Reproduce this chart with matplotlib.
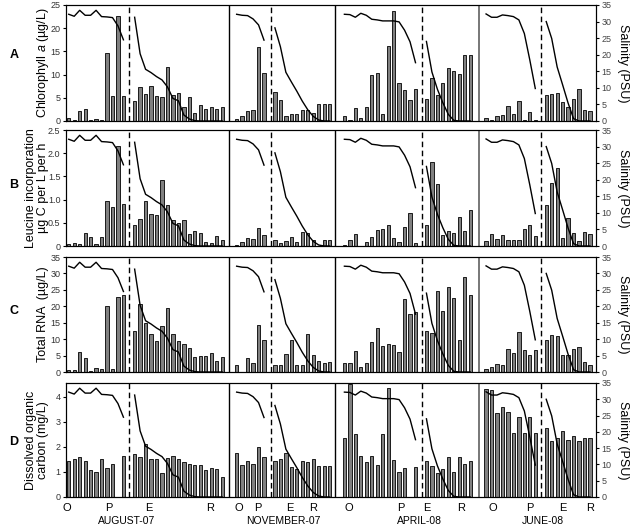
import matplotlib.pyplot as plt
import numpy as np

plt.rcParams['font.family'] = ['Liberation Sans', 'DejaVu Sans']
plt.rcParams['mathtext.fontset'] = 'custom'
plt.rcParams['mathtext.rm'] = 'Liberation Sans'
plt.rcParams['mathtext.it'] = 'Liberation Sans:italic'

nan = np.nan
seasons = ['AUGUST-07', 'NOVEMBER-07', 'APRIL-08', 'JUNE-08']

# A - chlorophyll a (ug/L); _o = ocean/plume stations, _e = estuary/river stations
chl_aug_o = [0.7, 0.2, 2.2, 2.6, 0.2, 0.4, 0.2, 14.7, 5.4, 22.6, 5.4]
chl_aug_e = [4.3, 7.3, 5.9, 7.6, 5.4, 5.1, 11.7, 5.7, 6.0, 3.1, 5.1, 1.7, 3.5, 2.5, 3.1, 2.5, 3.1]
chl_nov_o = [0.5, 1.1, 2.1, 2.3, 16.0, 10.4]
chl_nov_e = [6.2, 4.6, 1.1, 1.6, 1.5, 2.3, 2.4, 1.7, 3.6, 3.6, 3.6]
chl_apr_o = [1.1, 0.15, 2.8, 0.7, 3.0, 9.9, 10.4, 1.6, 16.1, 23.6, 8.1, 6.7, 4.5, 6.8]
chl_apr_e = [4.8, 9.2, 5.5, 8.1, 11.4, 10.7, 10.1, 14.3, 14.3]
chl_jun_o = [0.6, 0.3, 1.1, 1.4, 3.2, 1.6, 4.3, 0.3, 1.9, 0.15]
chl_jun_e = [5.7, 5.9, 6.1, 4.0, 3.0, 4.7, 6.9, 2.4, 2.2]

# B - leucine incorporation
leu_aug_o = [0.04, 0.07, 0.04, 0.28, 0.19, 0.05, 0.20, 0.96, 0.85, 2.15, 0.91]
leu_aug_e = [0.45, 0.58, 0.96, 0.68, 0.66, 1.42, 0.89, 0.55, 0.50, 0.57, 0.25, 0.32, 0.28, 0.09, 0.06, 0.22, 0.14]
leu_nov_o = [0.02, 0.08, 0.18, 0.15, 0.39, 0.23]
leu_nov_e = [0.12, 0.07, 0.11, 0.20, 0.09, 0.30, 0.27, 0.14, 0.01, 0.13, 0.13]
leu_apr_o = [0.015, 0.14, 0.25, nan, 0.09, 0.19, 0.35, 0.37, 0.45, 0.18, 0.09, 0.40, 0.72, 0.06]
leu_apr_e = [0.46, 1.81, 1.34, 0.23, 0.33, 0.29, 0.62, 0.33, 0.77]
leu_jun_o = [0.11, 0.25, 0.16, 0.23, 0.14, 0.14, 0.14, 0.37, 0.46, 0.22]
leu_jun_e = [0.88, 1.35, 1.69, 0.17, 0.60, 0.28, 0.10, 0.30, 0.26]

# C - total RNA (ug/L)
rna_aug_o = [0.7, 0.6, 6.2, 4.2, 0.3, 1.2, 0.8, 20.2, 1.0, 22.7, 23.3]
rna_aug_e = [12.4, 20.7, 14.8, 11.5, 9.4, 14.0, 19.5, 11.6, 9.3, 8.4, 7.3, 4.5, 4.9, 5.0, 5.8, 3.3, 4.6]
rna_nov_o = [2.1, nan, 4.2, 2.8, 14.3, 9.6]
rna_nov_e = [2.0, 2.0, 5.5, 9.8, 2.2, 2.0, 11.6, 5.1, 3.3, 2.6, 3.0]
rna_apr_o = [2.7, 2.7, 6.4, 1.5, 2.8, 9.1, 13.4, 7.9, 8.4, 8.2, 6.1, 22.2, 17.8, 18.4]
rna_apr_e = [12.5, 11.9, 24.8, 18.5, 26.0, 22.5, 9.8, 28.9, 23.3]
rna_jun_o = [0.9, 1.5, 2.4, 2.0, 7.1, 5.8, 12.3, 6.8, 5.3, 6.8]
rna_jun_e = [9.8, 11.4, 11.0, 5.3, 5.3, 6.9, 7.5, 3.0, 2.1]

# D - dissolved organic carbon (mg/L)
doc_aug_o = [1.42, 1.5, 1.6, 1.45, 1.07, 1.0, 1.5, 1.15, 1.3, nan, 1.63]
doc_aug_e = [1.72, 1.6, 2.1, 1.52, 1.52, 0.97, 1.55, 1.63, 1.52, 1.4, 1.32, 1.27, 1.28, 1.08, 1.16, 1.1, 0.78]
doc_nov_o = [1.75, 1.28, 1.43, 1.33, 2.0, 1.6]
doc_nov_e = [1.45, 1.5, 1.75, 1.2, 1.13, 1.43, 1.38, 1.5, 1.22, 1.25, 1.25]
doc_apr_o = [2.35, 4.5, 2.51, 1.65, 1.39, 1.62, 1.26, 2.51, 4.34, 1.47, 1.0, 1.15, nan, 1.21]
doc_apr_e = [1.43, 1.24, 0.94, 1.11, 1.6, 1.0, 1.6, 1.3, 1.43]
doc_jun_o = [4.3, 4.26, 3.36, 3.58, 3.39, 2.57, 3.19, 2.54, 3.19, 2.57]
doc_jun_e = [2.74, 2.25, 2.35, 2.65, 2.28, 2.44, 2.25, 2.35, 2.35]

# salinity (PSU), same in every row
sal_aug_o = [32.2, 31.6, 33.4, 31.9, 31.9, 33.4, 31.5, 31.4, 31.2, 28.7, 24.5]
sal_aug_e = [31.3, 20.3, 15.6, 14.6, 13.4, 12.4, 10.3, 6.8, 6.1, 1.8, 0.6, 0.1, 0, 0, 0, 0, 0]
sal_nov_o = [32.2, 31.9, 31.8, 30.8, 29.0, 24.4]
sal_nov_e = [28.1, 22.4, 14.7, 11.8, 9.0, 6.0, 3.4, 1.4, 0.3, 0, 0]
sal_apr_o = [32.2, 32.1, 31.3, 32.5, 31.9, 30.7, 30.5, 30.2, 30.2, 30.2, 29.9, 27.4, 23.9, 17.6]
sal_apr_e = [24.0, 14.8, 9.6, 5.5, 2.0, 0.2, 0, 0, 0]
sal_jun_o = [32.3, 31.3, 31.3, 32.0, 31.8, 31.5, 30.5, 26.4, 18.4, 9.8]
sal_jun_e = [30.0, 24.9, 16.3, 10.9, 5.4, 0.7, 0, 0, 0]

sal = [(sal_aug_o, sal_aug_e), (sal_nov_o, sal_nov_e),
       (sal_apr_o, sal_apr_e), (sal_jun_o, sal_jun_e)]

# layout along x (in station-slot units)
ocean_start = [0.5, 31.2, 50.9, 76.8]
est_start = [12.55, 38.2, 65.9, 87.8]
dash_x = [11.6, 37.55, 65.1, 86.9]
sep_x = [29.75, 49.25, 75.6]
xmax = 96.9
stn_x = [0.2, 7.9, 15.2, 26.3, 31.6, 35.1, 41.0, 45.2,
         51.7, 61.3, 65.9, 72.3, 78.1, 84.8, 90.8, 95.8]
stn_lab = ['O', 'P', 'E', 'R'] * 4
season_x = [11.1, 39.7, 64.7, 87.2]

rows = [
    ('A', r'Chlorophyll $\it{a}$ (µg/L)', 25, np.arange(0, 26, 5), None,
     [(chl_aug_o, chl_aug_e), (chl_nov_o, chl_nov_e), (chl_apr_o, chl_apr_e), (chl_jun_o, chl_jun_e)]),
    ('B', 'Leucine incorporation\nµg C per L per h', 2.5, np.arange(0, 2.6, 0.5),
     ['0', '0.5', '1.0', '1.5', '2.0', '2.5'],
     [(leu_aug_o, leu_aug_e), (leu_nov_o, leu_nov_e), (leu_apr_o, leu_apr_e), (leu_jun_o, leu_jun_e)]),
    ('C', 'Total RNA  (µg/L)', 35, np.arange(0, 36, 5), None,
     [(rna_aug_o, rna_aug_e), (rna_nov_o, rna_nov_e), (rna_apr_o, rna_apr_e), (rna_jun_o, rna_jun_e)]),
    ('D', 'Dissolved organic\ncarbon (mg/L)', 4.55, np.arange(0, 5, 1), None,
     [(doc_aug_o, doc_aug_e), (doc_nov_o, doc_nov_e), (doc_apr_o, doc_apr_e), (doc_jun_o, doc_jun_e)]),
]

W, H = 634, 529
fig = plt.figure(figsize=(W / 100, H / 100), dpi=100)
row_px = [(5, 121), (130, 246), (257, 372), (383, 497)]
letter_y = [55, 185, 311, 442]
label_px = [43, 37, 43, 37]
x0, x1 = 66, 596

for r, (letter, ylab, ymax, yt, ytl, data) in enumerate(rows):
    top, bot = row_px[r]
    ax = fig.add_axes([x0 / W, 1 - bot / H, (x1 - x0) / W, (bot - top) / H])
    ax2 = ax.twinx()
    for s in range(4):
        vo, ve = data[s]
        xo = ocean_start[s] + np.arange(len(vo))
        xe = est_start[s] + np.arange(len(ve))
        for xx, vv in ((xo, vo), (xe, ve)):
            ax.bar(xx, vv, width=0.6, color='#808080', edgecolor='black', linewidth=0.6)
        so, se = sal[s]
        ax2.plot(ocean_start[s] + np.arange(len(so)), so, color='black', lw=1)
        ax2.plot(est_start[s] + np.arange(len(se)), se, color='black', lw=1)
        ax.axvline(dash_x[s], color='black', lw=1, ls=(0, (4, 2.5)))
    for i, sx in enumerate(sep_x):
        ax.axvline(sx, color='#777777' if i == 2 else 'black', lw=1.4 if i == 2 else 1)

    ax.set_xlim(0, xmax)
    ax.set_ylim(0, ymax)
    ax.set_yticks(yt)
    if ytl is not None:
        ax.set_yticklabels(ytl)
    ax.tick_params(axis='y', labelsize=6.5, length=2, pad=2, labelcolor='#333333')
    ax.set_ylabel(ylab, fontsize=9, va='center', linespacing=1.05)
    ax.yaxis.set_label_coords((label_px[r] - x0) / (x1 - x0), 0.5)

    ax2.set_ylim(0, 35)
    ax2.set_yticks(np.arange(0, 36, 5))
    ax2.tick_params(axis='y', labelsize=6.5, length=2, pad=2, labelcolor='#444444')
    ax2.set_ylabel('Salinity (PSU)', fontsize=9, rotation=270, va='center')
    ax2.yaxis.set_label_coords(1.051, 0.5)

    if r == 3:
        ax.set_xticks(stn_x)
        ax.set_xticklabels(stn_lab, fontsize=8)
        ax.tick_params(axis='x', length=0, pad=4)
        for sx, name in zip(season_x, seasons):
            ax.text(sx, -0.21, name, transform=ax.get_xaxis_transform(),
                    ha='center', va='center', fontsize=7.5)
    else:
        ax.set_xticks([])

    fig.text(14 / W, 1 - letter_y[r] / H, letter, fontsize=9, fontweight='bold',
             ha='center', va='center')

fig.savefig('out.png', dpi=100)
